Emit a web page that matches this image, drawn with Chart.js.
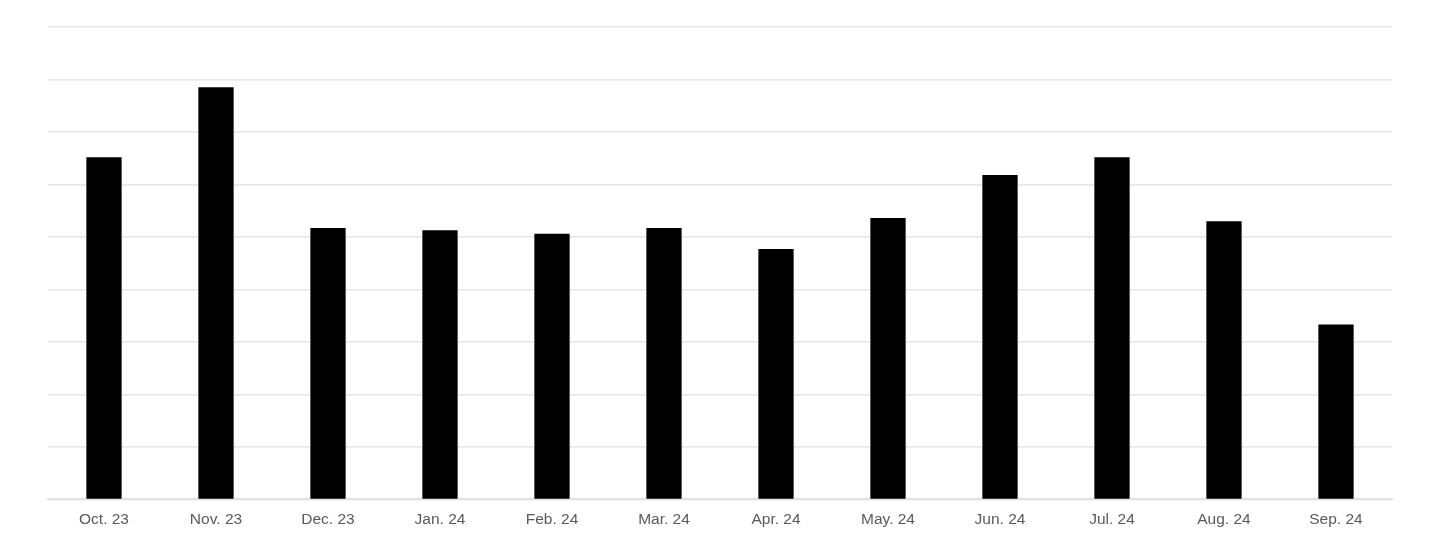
<!DOCTYPE html>
<html>
<head>
<meta charset="utf-8">
<script src="https://cdn.jsdelivr.net/npm/chart.js@4/dist/chart.umd.min.js"></script>
<style>
html,body{margin:0;padding:0;background:#fff;}
#wrap{width:1440px;height:540px;position:relative;}
</style>
</head>
<body>
<div id="wrap"><canvas id="c"></canvas></div>
<script>
const categories = ["Oct. 23","Nov. 23","Dec. 23","Jan. 24","Feb. 24","Mar. 24","Apr. 24","May. 24","Jun. 24","Jul. 24","Aug. 24","Sep. 24"];
const values = [6.52, 7.85, 5.17, 5.13, 5.06, 5.17, 4.77, 5.36, 6.18, 6.52, 5.30, 3.33];
const yMin = 0;
const yMax = 9;
const yStep = 1;

new Chart(document.getElementById('c'), {
  type: 'bar',
  data: {
    labels: categories,
    datasets: [{
      data: values,
      backgroundColor: '#000000',
      borderWidth: 0,
      categoryPercentage: 1,
      barPercentage: 0.315
    }]
  },
  options: {
    responsive: true,
    maintainAspectRatio: false,
    animation: false,
    layout: { padding: { left: 48, right: 48, top: 27, bottom: 0 } },
    plugins: { legend: { display: false }, tooltip: { enabled: false } },
    scales: {
      x: {
        grid: { display: false, drawTicks: false },
        border: { display: true, color: '#e4e4e4', width: 2 },
        ticks: {
          color: '#5a5a5a',
          padding: 11,
          font: { family: 'Liberation Sans, Arial, sans-serif', size: 15.5 }
        }
      },
      y: {
        min: yMin, max: yMax,
        ticks: { display: false, stepSize: yStep },
        grid: { color: '#e6e6e6', lineWidth: 1.5, drawTicks: false },
        border: { display: false }
      }
    }
  }
});
</script>
</body>
</html>
